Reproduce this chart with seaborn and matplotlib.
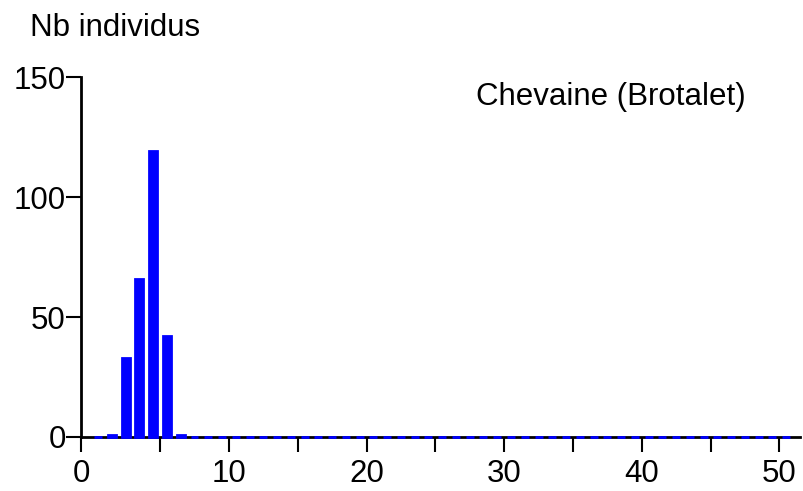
import numpy as np
import pandas as pd
import seaborn as sns
import matplotlib
matplotlib.use("Agg")
import matplotlib.pyplot as plt

# histogram classes (1 cm wide), counts
class_start = np.arange(0, 51)
counts = [0, 1, 33, 66, 119, 42, 1] + [0] * 44
y_ticks = [0, 50, 100, 150]
x_tick_labels = ["0", "10", "20", "30", "40", "50"]
species = "Chevaine (Brotalet)"
y_title = "Nb individus"

df = pd.DataFrame({"centre": class_start + 0.5, "n": counts})

sns.set_style("white")
plt.rcParams["font.family"] = ["Liberation Sans", "DejaVu Sans"]
plt.rcParams["text.color"] = "black"

fig = plt.figure(figsize=(8.04, 4.91), dpi=100)
ax = fig.add_axes([0.1007, 0.110, 0.8943, 0.733])

sns.barplot(data=df, x="centre", y="n", native_scale=True, width=0.58,
            color="#0000ff", saturation=1, edgecolor="#0000ff", linewidth=2,
            zorder=3, clip_on=False, ax=ax)

x_left = -0.75
ax.set_xlim(x_left, 51.5)
ax.set_ylim(0, 150)

# the "0" tick sits on the axis origin, as in the original
ax.set_xticks([x_left, 10, 20, 30, 40, 50])
ax.set_xticklabels(x_tick_labels)
ax.set_xticks([5, 15, 25, 35, 45], minor=True)
ax.set_yticks(y_ticks)

ax.tick_params(axis="both", which="both", direction="out", length=11,
               width=1.5, color="black", labelsize=22.5, labelcolor="black")
ax.tick_params(axis="x", which="both", bottom=True, pad=5)
ax.tick_params(axis="y", left=True, pad=0)

for side in ["top", "right"]:
    ax.spines[side].set_visible(False)
for side in ["left", "bottom"]:
    ax.spines[side].set_color("black")
    ax.spines[side].set_linewidth(2)

ax.set_xlabel("")
ax.set_ylabel("")

fig.text(30 / 804, 1 - 28 / 491, y_title, fontsize=22.5, color="black",
         ha="left", va="center")
fig.text(746 / 804, 1 - 97 / 491, species, fontsize=22.5, color="black",
         ha="right", va="center")

fig.savefig("out.png", dpi=100)
